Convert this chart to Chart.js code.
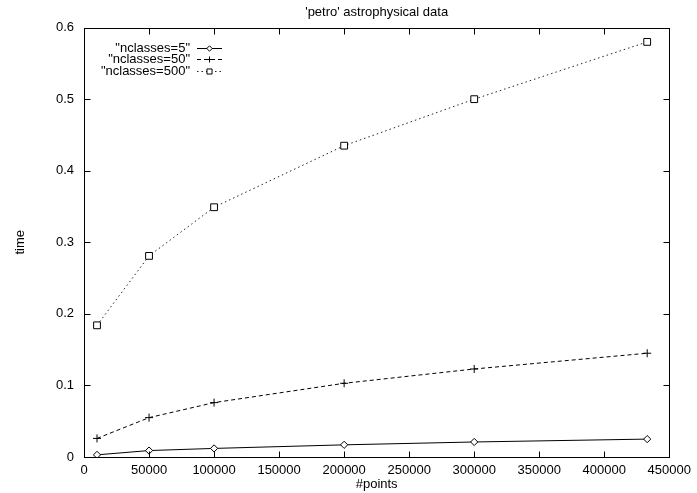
<!DOCTYPE html>
<html><head><meta charset="utf-8">
<script src="https://cdn.jsdelivr.net/npm/chart.js@4/dist/chart.umd.min.js"></script>
<style>html,body{margin:0;padding:0;background:#fff}</style>
</head><body>
<canvas id="c" width="697" height="493"></canvas>
<script>
// ---- data ----
const nPoints = [10000, 50000, 100000, 200000, 300000, 433000];
const nclasses5 = [0.003, 0.009, 0.012, 0.017, 0.021, 0.025];
const nclasses50 = [0.026, 0.055, 0.076, 0.103, 0.123, 0.145];
const nclasses500 = [0.184, 0.281, 0.349, 0.435, 0.500, 0.580];
const seriesLabels = ['"nclasses=5"', '"nclasses=50"', '"nclasses=500"'];
const chartTitle = "'petro' astrophysical data";
const xTitle = '#points';
const yTitle = 'time';

const FONT = 'Liberation Sans, Arial, Helvetica, sans-serif';
Chart.defaults.font.family = FONT;
Chart.defaults.color = '#000';

const toPts = arr => nPoints.map((x, i) => ({x: x, y: arr[i]}));

const styles = [
  {borderDash: [], pointStyle: 'rectRot', pointRadius: 3.6, color: '#000'},
  {borderDash: [4, 3], pointStyle: 'cross', pointRadius: 4, color: '#000'},
  {borderDash: [1.5, 3], pointStyle: 'rect', pointRadius: 4.8, color: '#222'}
];
const values = [nclasses5, nclasses50, nclasses500];

const datasets = values.map((v, i) => ({
  label: seriesLabels[i],
  data: toPts(v),
  borderColor: styles[i].color,
  borderWidth: 1,
  borderDash: styles[i].borderDash,
  pointStyle: styles[i].pointStyle,
  pointRadius: styles[i].pointRadius,
  pointBackgroundColor: '#fff',
  pointBorderColor: '#000',
  pointBorderWidth: 1,
  tension: 0,
  fill: false
}));

const framePlugin = {
  id: 'frame',
  afterDatasetsDraw(chart) {
    const {ctx, chartArea: a, scales: {x, y}} = chart;
    ctx.save();
    ctx.strokeStyle = '#000';
    ctx.lineWidth = 1;
    ctx.setLineDash([]);
    const L = Math.round(a.left) + 0.5, R = Math.round(a.right) + 0.5;
    const T = Math.round(a.top) + 0.5, B = Math.round(a.bottom) + 0.5;
    ctx.strokeRect(L, T, R - L, B - T);
    ctx.beginPath();
    const tl = 6;
    x.ticks.forEach(t => {
      const px = Math.round(x.getPixelForValue(t.value)) + 0.5;
      ctx.moveTo(px, B); ctx.lineTo(px, B - tl);
      ctx.moveTo(px, T); ctx.lineTo(px, T + tl);
    });
    y.ticks.forEach(t => {
      const py = Math.round(y.getPixelForValue(t.value)) + 0.5;
      ctx.moveTo(L, py); ctx.lineTo(L + tl, py);
      ctx.moveTo(R, py); ctx.lineTo(R - tl, py);
    });
    ctx.stroke();
    ctx.restore();
  },
  afterDraw(chart) {
    const {ctx, chartArea: a} = chart;
    ctx.save();
    ctx.font = '13px ' + FONT;
    ctx.textAlign = 'right';
    ctx.textBaseline = 'middle';
    const textRight = a.left + 106;
    const x0 = a.left + 113, x1 = a.left + 138;
    chart.data.datasets.forEach((ds, i) => {
      const yy = Math.round(a.top + 20 + i * 11.5) + 0.5;
      ctx.fillStyle = '#000';
      ctx.fillText(ds.label, textRight, yy);
      ctx.strokeStyle = ds.borderColor;
      ctx.lineWidth = 1;
      ctx.setLineDash(ds.borderDash);
      ctx.beginPath();
      ctx.moveTo(x0, yy); ctx.lineTo(x1, yy);
      ctx.stroke();
      ctx.setLineDash([]);
      ctx.fillStyle = '#fff';
      ctx.strokeStyle = '#000';
      Chart.helpers.drawPoint(ctx, {pointStyle: ds.pointStyle, radius: ds.pointRadius * 0.75, rotation: 0, borderWidth: 1}, (x0 + x1) / 2, yy);
    });
    ctx.restore();
  }
};

new Chart(document.getElementById('c'), {
  type: 'line',
  data: {datasets: datasets},
  plugins: [framePlugin],
  options: {
    responsive: false,
    devicePixelRatio: 1,
    animation: false,
    layout: {padding: {left: 0, right: 24, top: 0, bottom: 0}},
    plugins: {
      legend: {display: false},
      tooltip: {enabled: false},
      title: {
        display: true,
        text: chartTitle,
        fullSize: false,
        color: '#000',
        font: {size: 13, weight: 'normal', family: FONT},
        padding: {top: 5, bottom: 7}
      }
    },
    scales: {
      x: {
        type: 'linear',
        position: 'bottom',
        min: 0, max: 450000,
        grid: {display: false, drawTicks: false},
        border: {display: false},
        ticks: {stepSize: 50000, maxRotation: 0, autoSkip: false, padding: 6,
                color: '#000', font: {size: 13},
                callback: v => String(v)},
        title: {display: true, text: xTitle, color: '#000', font: {size: 13},
                padding: {top: 0, bottom: 1}},
        afterFit: s => { s.height = 36; }
      },
      y: {
        type: 'linear',
        min: 0, max: 0.6,
        grid: {display: false, drawTicks: false},
        border: {display: false},
        ticks: {stepSize: 0.1, padding: 10, color: '#000', font: {size: 13},
                callback: v => String(+v.toFixed(2))},
        title: {display: true, text: yTitle, color: '#000', font: {size: 13},
                padding: {top: 13, bottom: 0}},
        afterFit: s => { s.width = 84; }
      }
    }
  }
});
</script>
</body></html>
